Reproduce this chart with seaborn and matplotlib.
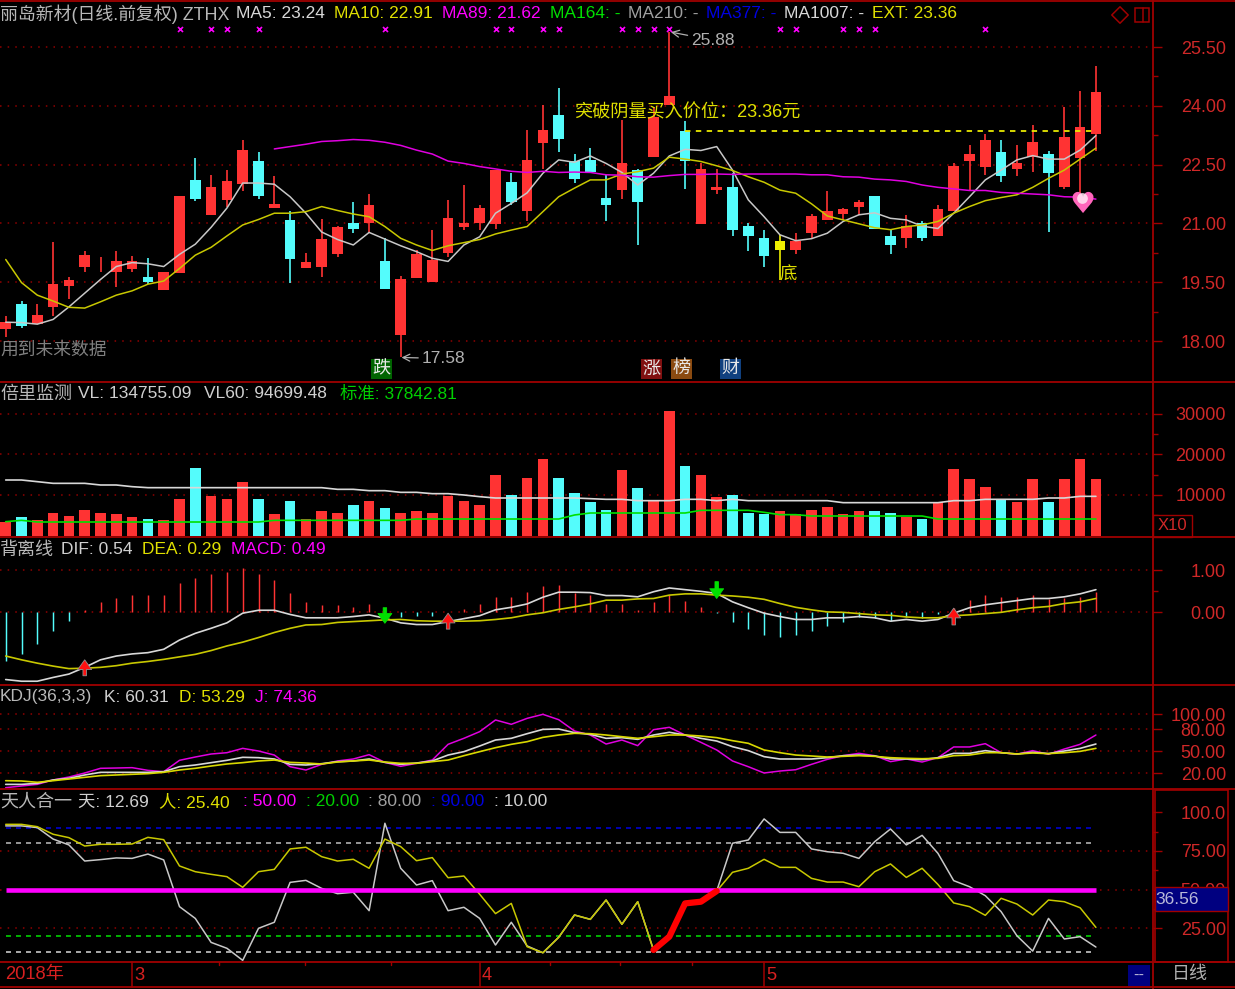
import numpy as np
import matplotlib
matplotlib.use("Agg")
import matplotlib.pyplot as plt
from matplotlib.patches import Rectangle
import seaborn as sns

W, H = 1235, 989
BG = "#000000"
RED = "#ff3333"
CYAN = "#54fcfc"
WHITE = "#c8c8c8"
YEL = "#c8c800"
YTXT = "#e0e000"
MAG = "#e000e0"
FRAME = "#a00000"
TICK = "#d02828"
GRID = "#900000"

opens = [18.30,18.94,18.43,18.88,19.40,19.90,20.11,19.75,19.83,19.63,
         19.29,19.74,22.12,21.21,21.59,22.01,22.58,21.39,21.09,19.86,
         19.90,20.21,21.01,21.01,20.05,18.15,19.60,19.51,20.25,20.90,
         21.01,20.98,22.05,21.32,23.04,23.77,22.58,22.62,21.66,21.85,
         22.35,22.69,24.01,23.36,20.98,21.85,21.93,20.93,20.63,20.32,
         20.32,20.75,21.09,21.24,21.43,21.70,20.67,20.63,21.01,20.67,
         21.32,22.58,22.43,22.81,22.39,22.69,22.77,21.93,22.66,23.27]
closes = [18.49,18.38,18.67,19.45,19.56,20.19,20.13,20.05,20.05,19.51,
          19.75,21.70,21.62,21.93,22.08,22.88,21.70,21.50,20.09,20.02,
          20.59,20.90,20.86,21.47,19.33,19.59,20.21,20.06,21.13,21.01,
          21.39,22.35,21.55,22.62,23.38,23.15,22.13,22.31,21.47,22.54,
          21.55,23.71,24.26,22.58,22.39,21.93,20.82,20.67,20.17,20.55,
          20.55,21.20,21.32,21.36,21.55,20.86,20.44,20.93,20.63,21.36,
          22.47,22.77,23.12,22.20,22.54,23.08,22.28,23.20,23.46,24.34]
highs = [18.64,19.02,18.94,20.52,19.63,20.29,20.15,20.29,20.17,20.13,
         19.77,21.70,22.66,22.24,22.35,23.12,22.81,22.20,21.32,20.25,
         21.12,20.93,21.55,21.74,20.63,19.67,20.31,20.82,21.59,21.97,
         21.47,22.35,22.28,23.38,24.03,24.45,22.77,22.92,22.24,23.63,
         22.39,23.98,25.88,23.61,22.54,22.39,22.28,21.01,20.82,20.71,
         20.75,21.24,21.82,21.39,21.59,21.70,20.82,21.21,21.05,21.47,
         22.54,23.00,23.27,23.12,23.00,23.50,22.85,23.96,24.39,25.02]
lows = [18.09,18.34,18.43,18.64,19.06,19.75,19.75,19.37,19.75,19.45,
        19.29,19.73,21.58,21.21,21.43,21.82,21.62,21.39,19.48,19.86,
        19.63,20.14,20.75,20.75,19.33,17.58,19.60,19.51,20.14,20.82,
        20.82,20.86,21.47,21.05,22.39,22.81,22.04,22.28,21.05,21.62,
        20.44,22.69,24.01,21.89,20.98,21.74,20.67,20.29,19.90,19.56,
        20.21,20.63,21.09,21.09,21.21,20.86,20.21,20.37,20.55,20.67,
        21.32,21.85,22.24,22.05,22.20,22.31,20.78,21.89,21.43,22.85]
ma5 = [18.48,18.47,18.43,18.55,18.87,19.22,19.57,19.90,20.00,19.97,
       19.90,20.21,20.47,20.90,21.39,22.03,22.03,22.00,21.68,21.26,
       20.78,20.59,20.45,20.77,20.60,20.43,20.28,20.11,20.03,20.45,
       20.66,21.26,21.51,21.78,22.28,22.62,22.56,22.72,22.53,22.30,
       21.98,22.28,22.72,22.89,22.86,22.96,22.36,21.60,21.17,20.71,
       20.56,20.61,20.75,21.05,21.22,21.27,21.13,21.09,20.93,20.87,
       21.26,21.68,22.11,22.36,22.62,22.73,22.64,22.64,22.87,23.24]
ma10 = [20.08,19.49,19.17,19.02,18.86,18.84,19.00,19.17,19.28,19.45,
        19.53,19.85,20.19,20.39,20.68,20.96,21.10,21.26,21.26,21.30,
        21.43,21.33,21.24,21.17,20.92,20.62,20.45,20.31,20.43,20.51,
        20.59,20.73,20.83,20.92,21.30,21.68,21.90,22.11,22.11,22.26,
        22.32,22.41,22.69,22.64,22.58,22.47,22.35,22.19,22.05,21.85,
        21.77,21.50,21.19,21.09,20.99,20.89,20.84,20.92,20.96,21.05,
        21.26,21.43,21.58,21.66,21.73,21.92,22.15,22.36,22.64,22.92]
ma89_start = 17
ma89 = [22.90,22.96,23.02,23.09,23.11,23.14,23.12,23.07,22.99,22.87,
        22.77,22.59,22.53,22.45,22.39,22.33,22.30,22.33,22.30,22.31,
        22.30,22.24,22.23,22.19,22.18,22.22,22.25,22.25,22.26,22.25,
        22.26,22.26,22.26,22.26,22.24,22.24,22.19,22.18,22.13,22.11,
        22.07,21.98,21.92,21.88,21.84,21.84,21.79,21.77,21.75,21.73,
        21.68,21.67,21.62]
breakout_start = 43
breakout_price = 23.36
cross_marks = [11,13,14,16,24,31,32,34,35,39,40,41,42,49,50,53,54,55,62]

volume = [3415,4568,3827,5638,4897,6378,5638,5308,4568,4156,
          3827,9012,16748,9753,9012,13127,9012,5308,8600,4156,
          6049,5638,7530,8600,6790,5638,6049,5638,9753,8600,
          7530,14937,10082,14197,18970,14197,10411,8271,6378,16090,
          11645,8600,30821,17160,14937,9423,10082,5638,5308,6049,
          5308,6378,7119,5308,6049,6049,5638,4568,4156,8271,
          16419,13868,11975,9012,8271,13868,8271,13868,18970,13868]
vl60 = [13703,13703,13291,12880,12880,12880,12468,12468,12057,11810,
        11810,11810,11810,11810,11810,11810,11810,11810,11810,11810,
        11810,11399,11399,11069,11069,10658,10658,10329,10329,10000,
        9588,9259,9259,9259,9259,9259,9259,9094,8930,8930,
        8600,8600,8600,8930,8930,8600,8930,8600,8600,8600,
        8600,8600,8600,8107,8107,8107,8107,8107,8107,8107,
        8600,8600,8930,8930,8930,8930,9259,9259,9670,9670]
vol_std = [3415,3745,3333,3333,3333,3333,3333,3333,3333,3333,
           3333,3333,3333,3333,3333,3333,3333,3745,3745,3745,
           3745,3745,3745,3745,3745,3745,4074,4074,4074,4074,
           4074,4074,4074,4074,4074,4074,5062,5555,5555,5555,
           5555,5555,5555,5555,6214,6214,6214,6214,5720,5144,
           5144,4814,4814,4814,4814,4814,4814,4814,4814,4074,
           4074,4074,4074,4074,4074,4074,4074,4074,4074,4074]

dif = [-1.60,-1.64,-1.64,-1.55,-1.47,-1.31,-1.13,-1.04,-0.99,-0.96,
       -0.88,-0.66,-0.50,-0.38,-0.25,-0.02,0.05,0.05,-0.05,-0.13,
       -0.13,-0.13,-0.10,-0.06,-0.14,-0.25,-0.29,-0.29,-0.22,-0.15,
       -0.08,0.06,0.12,0.20,0.36,0.48,0.48,0.47,0.40,0.40,
       0.37,0.49,0.58,0.54,0.50,0.45,0.25,0.11,-0.02,-0.10,
       -0.17,-0.17,-0.13,-0.13,-0.10,-0.13,-0.21,-0.17,-0.21,-0.17,
       -0.02,0.11,0.18,0.23,0.28,0.33,0.33,0.37,0.44,0.54]
dea = [-1.04,-1.13,-1.21,-1.28,-1.34,-1.33,-1.31,-1.27,-1.21,-1.17,
       -1.12,-1.06,-1.00,-0.91,-0.80,-0.71,-0.60,-0.48,-0.38,-0.30,
       -0.29,-0.24,-0.22,-0.20,-0.18,-0.17,-0.20,-0.21,-0.21,-0.21,
       -0.20,-0.17,-0.13,-0.06,-0.01,0.07,0.13,0.20,0.29,0.29,
       0.32,0.33,0.41,0.44,0.44,0.41,0.39,0.36,0.31,0.21,
       0.12,0.06,0.01,0.00,-0.03,-0.06,-0.07,-0.11,-0.13,-0.13,
       -0.08,-0.06,-0.03,0.00,0.06,0.11,0.14,0.21,0.25,0.33]
macd = [-1.16,-0.98,-0.76,-0.44,-0.20,0.06,0.24,0.33,0.41,0.41,
        0.41,0.69,0.81,0.91,0.95,1.05,0.91,0.77,0.45,0.24,
        0.17,0.17,0.12,0.20,0.06,-0.12,-0.09,-0.09,0.02,0.09,
        0.20,0.37,0.37,0.48,0.63,0.66,0.45,0.41,0.20,0.20,
        0.06,0.24,0.41,0.27,0.12,-0.02,-0.22,-0.40,-0.55,-0.59,
        -0.55,-0.44,-0.33,-0.22,-0.10,-0.13,-0.20,-0.10,-0.13,-0.05,
        0.10,0.30,0.41,0.37,0.37,0.41,0.31,0.33,0.37,0.48]
# (index, tip value, tail value, colour)
macd_signals = [(5,-1.13,-1.51,"#ff1010"),(24,-0.26,0.11,"#00e000"),(28,-0.02,-0.40,"#ff1010"),
                (45,0.33,0.73,"#00e000"),(60,0.10,-0.30,"#ff1010")]

kdj_k = [4.5,4.5,5.9,10.5,12.7,17.3,20.9,20.9,20.9,20.9,
         21.8,28.6,30.9,34.1,37.3,41.4,40.9,39.1,31.8,30.9,
         32.7,35.5,36.4,39.1,34.5,31.8,33.6,36.4,44.5,49.1,
         56.8,65.0,67.3,73.6,79.5,80.0,75.0,72.7,67.3,68.2,
         65.9,71.8,75.5,71.8,67.3,63.6,55.9,50.5,42.3,39.1,
         39.1,39.1,40.9,43.6,44.5,43.2,39.1,39.1,38.2,40.9,
         46.8,46.8,50.5,47.7,45.9,48.2,46.4,50.0,53.6,59.5]
kdj_d = [9.5,9.1,7.3,9.5,11.8,14.1,16.4,17.3,18.2,19.1,
         20.9,24.1,26.4,29.5,32.3,34.1,36.4,37.7,34.5,33.6,
         32.3,35.0,36.4,37.7,35.0,33.2,33.2,35.5,37.7,43.6,
         49.1,54.5,59.1,62.7,68.6,71.8,74.1,73.6,71.8,69.5,
         67.3,69.5,71.8,71.8,70.4,68.2,64.1,60.5,51.4,47.7,
         44.5,43.2,41.8,42.7,43.6,42.7,40.9,40.0,39.5,40.0,
         43.6,44.5,47.7,47.7,45.9,47.3,46.4,47.7,49.5,53.6]
kdj_j = [0.0,2.3,4.5,10.5,14.5,20.0,26.4,26.8,27.3,23.6,
         21.8,37.3,41.8,45.9,47.7,53.6,50.0,44.5,28.6,24.1,
         31.8,36.4,39.1,45.0,34.5,29.1,33.2,37.7,59.1,67.3,
         76.4,92.3,86.4,94.5,100.0,92.7,77.3,71.8,59.5,65.0,
         57.3,79.1,82.3,71.8,61.8,51.4,36.4,28.6,20.0,22.7,
         24.5,31.8,38.6,43.6,46.8,43.6,35.5,39.1,35.0,40.9,
         55.5,55.5,60.0,47.7,45.5,50.5,45.5,52.7,59.1,71.8]

tian = [91.2,91.2,90.1,82.7,78.9,68.5,69.4,70.5,70.2,73.0,
        69.2,39.0,31.4,15.9,12.1,4.3,25.0,28.9,54.7,56.0,
        50.8,47.4,48.3,36.4,92.9,63.8,53.0,55.8,36.4,38.6,
        31.4,14.2,28.9,13.6,9.2,19.2,33.6,30.8,43.3,27.6,
        42.2,11.0,19.6,41.1,42.2,49.1,80.0,82.1,95.7,87.0,
        87.0,76.3,74.5,73.5,70.2,81.0,89.2,78.9,85.1,73.5,
        55.8,51.9,46.1,35.8,20.2,10.3,31.4,18.1,19.6,12.9]
ren = [92.2,92.2,90.7,85.8,83.6,78.2,79.3,79.3,79.5,83.8,
       82.3,65.3,61.6,59.9,58.4,51.5,61.6,63.1,76.3,77.4,
       71.3,68.5,69.6,63.8,82.7,77.8,68.7,70.7,57.7,58.8,
       47.0,34.5,41.1,13.1,9.2,19.2,33.6,30.8,43.3,27.6,
       42.2,11.0,19.6,41.1,42.2,49.1,61.2,63.8,69.6,64.4,
       64.4,57.3,54.9,54.9,51.9,61.6,66.6,57.9,63.8,53.4,
       41.4,39.0,33.4,44.4,40.7,33.6,43.3,42.2,38.3,25.6]
red_run = (41, 46)
month_idx = [8, 30, 48]
month_labels = ["3", "4", "5"]

sns.set_theme(style="dark", rc={"axes.facecolor": BG, "figure.facecolor": BG, "axes.grid": False})
plt.rcParams["font.family"] = ["Liberation Sans", "Noto Sans CJK SC", "DejaVu Sans"]

idx = np.arange(len(closes))
o, c, h, l = map(np.array, (opens, closes, highs, lows))
up = c >= o

fig = plt.figure(figsize=(W / 100, H / 100), dpi=100, facecolor=BG)
X_STEP, X_ZERO, X_RIGHT = 15.8, 5.7, 1153
xlim = (-X_ZERO / X_STEP, (X_RIGHT - X_ZERO) / X_STEP)


def panel(top, bottom, ylim, major, labels, minor, grid=None):
    ax = fig.add_axes([0, 1 - bottom / H, X_RIGHT / W, (bottom - top) / H], facecolor=BG)
    for s in ax.spines.values():
        s.set_visible(False)
    ax.set_xlim(*xlim)
    ax.set_xticks([])
    ax.yaxis.tick_right()
    ax.set_yticks(major)
    ax.set_yticklabels(labels, ha="right")
    ax.set_yticks(minor, minor=True)
    ax.tick_params(axis="y", which="major", length=6.5, width=1, color=FRAME,
                   labelcolor=TICK, labelsize=13, pad=46, left=False, right=True)
    ax.tick_params(axis="y", which="minor", length=3.5, width=1, color=FRAME, left=False, right=True)
    gl = major if grid is None else grid
    ax.hlines(gl, xlim[0], xlim[1], color=GRID, lw=1.1, linestyle=(0, (1, 4)), zorder=0.5)
    ax.set_ylim(*ylim)
    ax.set_xlabel("")
    return ax


def line(ax, y, color, lw=1.1, x=idx, z=3):
    sns.lineplot(x=x, y=y, color=color, linewidth=lw, ax=ax, estimator=None,
                 errorbar=None, legend=False, zorder=z)
    ax.set_xlabel("")
    ax.set_ylabel("")


# ---- candlestick pane
ax1 = panel(2, 381, (16.98, 26.648), [18, 19.5, 21, 22.5, 24, 25.5],
            ["18.00", "19.50", "21.00", "22.50", "24.00", "25.50"],
            [18.75, 20.25, 21.75, 23.25, 24.75])
cols = np.array([RED if u else CYAN for u in up], dtype=object)
cols[49] = "#f0f000"
ax1.vlines(idx, l, h, colors=list(cols), lw=1.2, zorder=2)
ax1.bar(idx, np.abs(c - o), bottom=np.minimum(o, c), width=0.68, color=list(cols), linewidth=0, zorder=2.2)
line(ax1, ma5, WHITE)
line(ax1, ma10, YEL)
line(ax1, ma89, MAG, x=idx[ma89_start:])
ax1.hlines(breakout_price, breakout_start, idx[-1], color="#e8e800", lw=1.3, linestyle=(0, (3, 3)), zorder=3)
ax1.scatter(cross_marks, [25.96] * len(cross_marks), marker="x", s=13, color="#ff00ff", lw=1.2, zorder=4)
ax1.annotate("25.88", xy=(42.1, 25.88), xytext=(20, -8), textcoords="offset pixels", color="#b0b0b0",
             fontsize=12.5, va="center", arrowprops=dict(arrowstyle="->", color="#b0b0b0", lw=0.9, shrinkA=0, shrinkB=0))
ax1.annotate("17.58", xy=(25.05, 17.58), xytext=(20, -1), textcoords="offset pixels", color="#b0b0b0",
             fontsize=12.5, va="center", arrowprops=dict(arrowstyle="->", color="#b0b0b0", lw=0.9, shrinkA=0, shrinkB=0))
ax1.text(36.0, 23.83, "突破阴量买入价位：23.36元", color=YTXT, fontsize=13.1, va="center", ha="left", zorder=6)
ax1.text(49.0, 19.68, "底", color=YTXT, fontsize=12.5, va="center", ha="left", zorder=6)
ax1.text(xlim[0], 17.77, "用到未来数据", color="#808080", fontsize=12.8, va="center", ha="left", zorder=6)
for i, s, bgc in [(23.8, "跌", "#006400"), (40.85, "涨", "#801010"), (42.8, "榜", "#8a4a10"), (45.85, "财", "#10407f")]:
    ax1.text(i, 17.29, s, color="#e8e8e8", fontsize=13, ha="center", va="center", zorder=6,
             bbox=dict(boxstyle="square,pad=0.08", fc=bgc, ec="none"))
ax1.text(68.15, 21.48, "♥", color="#ff66bb", fontsize=21, ha="center", va="center", family="DejaVu Sans", zorder=7)
ax1.scatter([68.1], [21.64], marker="o", s=60, color="#ffe8f4", lw=0, alpha=0.85, zorder=8)

# ---- volume pane
ax2 = panel(381, 537, (-370, 38146), [10000, 20000, 30000], ["10000", "20000", "30000"], [5000, 15000, 25000])
vol_hue = ["up" if u else "down" for u in up]
sns.barplot(x=idx, y=volume, hue=vol_hue, palette={"up": RED, "down": CYAN}, native_scale=True, dodge=False,
            width=0.68, saturation=1, legend=False, linewidth=0, ax=ax2, zorder=2)
ax2.set_xlim(*xlim)
ax2.set_ylim(-370, 38146)
line(ax2, vl60, "#d8d8d8", lw=1.2)
line(ax2, vol_std, "#00e000", lw=1.2)

# ---- MACD pane
ax3 = panel(537, 685, (-1.73, 1.794), [0, 1], ["0.00", "1.00"], [0.5])
mv = np.array(macd)
ax3.vlines(idx, 0, mv, colors=[RED if v > 0 else CYAN for v in mv], lw=1.05, zorder=2)
line(ax3, dif, "#d8d8d8", lw=1.2)
line(ax3, dea, YEL, lw=1.2)
for i, tip, tail, col in macd_signals:
    ax3.annotate("", xy=(i, tip), xytext=(i, tail),
                 arrowprops=dict(facecolor=col, edgecolor="#909090" if col != "#00e000" else col, lw=0.6,
                                 width=2.5, headwidth=10, headlength=7, shrink=0), zorder=5)

# ---- KDJ pane
ax4 = panel(685, 790, (-3.18, 140), [20, 50, 80, 100], ["20.00", "50.00", "80.00", "100.00"], [])
line(ax4, kdj_j, MAG)
line(ax4, kdj_k, "#d8d8d8", lw=1.2)
line(ax4, kdj_d, "#d8d800", lw=1.2)

# ---- 天人合一 pane
ax5 = panel(790, 962, (3.23, 114.4), [25, 50, 75, 100], ["25.00", "50.00", "75.00", "100.0"],
            [37.5, 62.5, 87.5], grid=[25, 50, 75])
for lvl, col in [(90, "#0000d0"), (80, "#b0b0b0"), (20, "#00d000"), (10, "#c8c8c8")]:
    ax5.hlines(lvl, idx[0], idx[-1], color=col, lw=1.2, linestyle=(0, (3, 3)), zorder=1)
ax5.hlines(50, idx[0], idx[-1], color="#ff00ff", lw=3.3, zorder=4)
line(ax5, tian, WHITE)
line(ax5, ren, YEL)
a, b = red_run
line(ax5, tian[a:b], "#ff0000", lw=4.5, x=idx[a:b], z=5)

# ---- frame and legend rows, drawn in picture pixels
ov = fig.add_axes([0, 0, 1, 1], facecolor="none", zorder=10)
ov.set_xlim(0, W)
ov.set_ylim(H, 0)
ov.axis("off")
for y in [1, 381.5, 537, 684.5, 789, 962, 987]:
    ov.plot([0, W], [y, y], color=FRAME, lw=1.3, solid_capstyle="butt")
ov.plot([X_RIGHT, X_RIGHT], [0, 989], color=FRAME, lw=1.3)
ov.add_patch(Rectangle((1155, 790), 73, 172, fc="none", ec=FRAME, lw=1.2))
ov.add_patch(Rectangle((1155, 887), 73, 24, fc="#000080", ec=FRAME, lw=1))
ov.text(1155, 899, "36.56", color="#b8b8d8", fontsize=12.5, va="center", ha="left")
ov.add_patch(Rectangle((X_RIGHT, 515), 39, 22, fc=BG, ec=FRAME, lw=1))
ov.text(1172, 526, "X10", color=TICK, fontsize=12, va="center", ha="center")
ov.add_patch(Rectangle((1128, 965), 22, 21, fc="#000080", ec="none"))
ov.text(1139, 975, "--", color="#b8b8d8", fontsize=12, va="center", ha="center")
ov.text(1190, 975, "日线", color="#b0b0b0", fontsize=13, va="center", ha="center")
ov.text(5, 975, "2018年", color="#d82020", fontsize=13.2, va="center", ha="left")
for i, s in zip(month_idx, month_labels):
    px = X_ZERO + X_STEP * i
    ov.plot([px, px], [962, 987], color=FRAME, lw=1.1)
    ov.text(px + 2, 975, s, color="#d82020", fontsize=13.2, va="center", ha="left")
for px in [219, 305, 391, 550, 620, 692]:
    ov.plot([px, px], [962, 965], color=FRAME, lw=1)
ov.scatter([1120], [15], marker="D", s=70, facecolor="none", edgecolor=FRAME, lw=1.1)
ov.add_patch(Rectangle((1135, 8), 14, 14, fc="none", ec=FRAME, lw=1.1))
ov.plot([1143, 1143], [8, 22], color=FRAME, lw=1.1)

rows = [
    (14, [(0, "丽岛新材(日线.前复权) ZTHX", "#b8b8b8", 12.9), (236, "MA5: 23.24", "#d8d8d8", 12.5),
          (334, "MA10: 22.91", YTXT, 12.5), (442, "MA89: 21.62", "#ff00ff", 12.5),
          (550, "MA164: -", "#00e000", 12.5), (628, "MA210: -", "#a0a0a0", 12.5),
          (706, "MA377: -", "#0000e0", 12.5), (784, "MA1007: -", "#d8d8d8", 12.5), (872, "EXT: 23.36", YTXT, 12.5)]),
    (394, [(0, "倍里监测", "#b8b8b8", 13), (78, "VL: 134755.09", "#d0d0d0", 12.5),
           (204, "VL60: 94699.48", "#d0d0d0", 12.5), (340, "标准: 37842.81", "#00d000", 12.5)]),
    (550, [(0, "背离线", "#b8b8b8", 13), (61, "DIF: 0.54", "#d0d0d0", 12.5), (142, "DEA: 0.29", YTXT, 12.5),
           (231, "MACD: 0.49", "#ff00ff", 12.5)]),
    (697, [(0, "KDJ(36,3,3)", "#b8b8b8", 12.5), (104, "K: 60.31", "#d0d0d0", 12.5), (179, "D: 53.29", YTXT, 12.5),
           (255, "J: 74.36", "#ff00ff", 12.5)]),
    (802, [(0, "天人合一", "#b8b8b8", 13), (78, "天: 12.69", "#d0d0d0", 12.5), (159, "人: 25.40", YTXT, 12.5),
           (243, ": 50.00", "#ff00ff", 12.5), (306, ": 20.00", "#00d000", 12.5), (368, ": 80.00", "#a0a0a0", 12.5),
           (431, ": 90.00", "#0000e0", 12.5), (494, ": 10.00", "#d0d0d0", 12.5)]),
]
for y, items in rows:
    for px, s, col, fs in items:
        ov.text(px, y, s, color=col, fontsize=fs, va="center", ha="left")

fig.savefig("out.png", dpi=100, facecolor=BG)
